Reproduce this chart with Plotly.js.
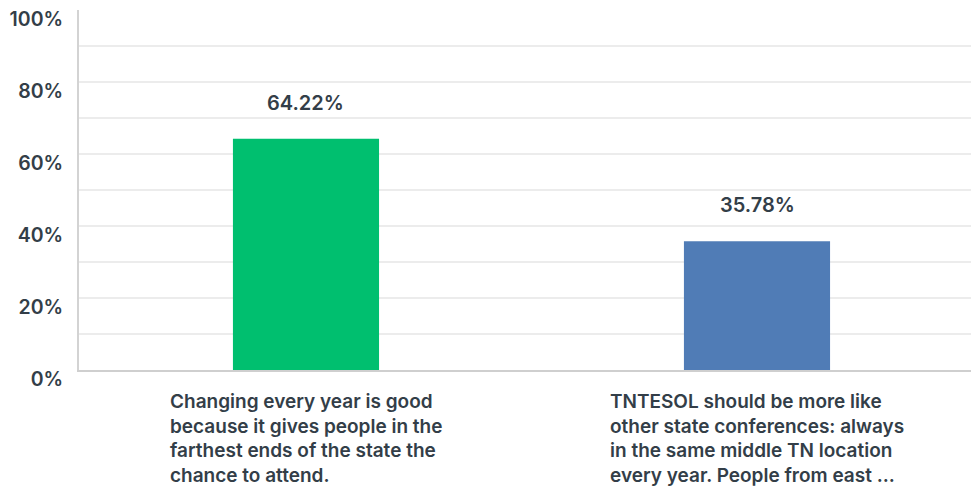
<!DOCTYPE html>
<html>
<head>
<meta charset="utf-8">
<script src="https://cdn.plot.ly/plotly-3.0.1.min.js"></script>
<style>html,body{margin:0;padding:0;background:#fff;}#chart{width:971px;height:491px;}</style>
</head>
<body>
<div id="chart"></div>
<script>
const categories = [
  "Changing every year is good because it gives people in the farthest ends of the state the chance to attend.",
  "TNTESOL should be more like other state conferences: always in the same middle TN location every year. People from east ..."
];
const tickLabels = [
  "Changing every year is good<br>because it gives people in the<br>farthest ends of the state the<br>chance to attend.",
  "TNTESOL should be more like<br>other state conferences: always<br>in the same middle TN location<br>every year. People from east ..."
];
const values = [64.22, 35.78];
const valueLabels = ["64.22%", "35.78%"];
const barColors = ["#00bf6f", "#507cb6"];
const yTicks = [0, 20, 40, 60, 80, 100];
const yTickText = ["0%", "20%", "40%", "60%", "80%", "100%"];

const textColor = "#333e48";
const fontFam = "Inter, 'Open Sans', sans-serif";

const annotations = [];
categories.forEach((c, i) => {
  annotations.push({
    x: c, y: values[i], xref: "x", yref: "y",
    text: valueLabels[i], showarrow: false,
    xanchor: "center", yanchor: "bottom", yshift: 22,
    font: {family: fontFam, size: 20, color: textColor, weight: 600}
  });
  annotations.push({
    x: c, y: 0, xref: "x", yref: "paper",
    text: tickLabels[i], showarrow: false, align: "left",
    xanchor: "center", yanchor: "top", yshift: -18,
    font: {family: fontFam, size: 19, color: textColor, weight: 600}
  });
});

const trace = {
  type: "bar",
  x: categories,
  y: values,
  marker: {color: barColors},
  width: 0.324,
  hoverinfo: "none"
};

const layout = {
  width: 971, height: 491,
  margin: {l: 79, r: 0, t: 10, b: 120.5},
  paper_bgcolor: "#fff", plot_bgcolor: "#fff",
  showlegend: false,
  xaxis: {
    type: "category",
    range: [-0.5033, 1.4745],
    showticklabels: false,
    showgrid: false,
    showline: true, linecolor: "#cfcfcf", linewidth: 2,
    zeroline: false, ticks: ""
  },
  yaxis: {
    range: [0, 100],
    tickvals: yTicks, ticktext: yTickText,
    showgrid: true, gridcolor: "#ececec", gridwidth: 1.5,
    minor: {dtick: 10, showgrid: true, gridcolor: "#ececec", gridwidth: 1.5, ticks: ""},
    showline: true, linecolor: "#d3d3d3", linewidth: 2,
    zeroline: false, ticks: "",
    ticklabelshift: 9, ticklabelstandoff: 10,
    tickfont: {family: fontFam, size: 19.5, color: textColor, weight: 600}
  },
  annotations: annotations
};

Plotly.newPlot("chart", [trace], layout, {displayModeBar: false, staticPlot: true});
</script>
</body>
</html>
